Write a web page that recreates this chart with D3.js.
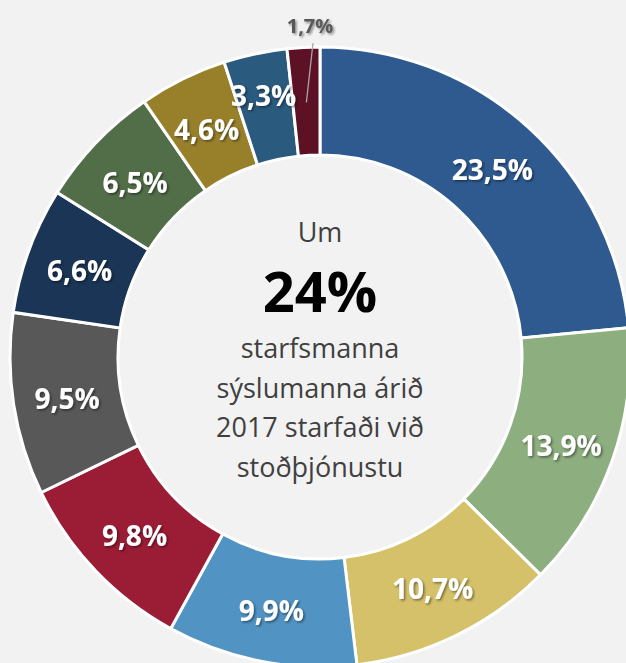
<!DOCTYPE html>
<html><head><meta charset="utf-8">
<script src="https://cdn.jsdelivr.net/npm/d3@7"></script>
<style>
html,body{margin:0;padding:0;background:#F2F2F2;overflow:hidden}
svg{display:block}
</style></head>
<body>
<script>
const categories = ["A","B","C","D","E","F","G","H","I","J","K"];
const values = [23.5, 13.9, 10.7, 9.9, 9.8, 9.5, 6.6, 6.5, 4.6, 3.3, 1.7];
const labels = ["23,5%","13,9%","10,7%","9,9%","9,8%","9,5%","6,6%","6,5%","4,6%","3,3%","1,7%"];
const colors = ["#2E5A8F","#8DAE7F","#D5C16A","#5193C3","#9B1C35","#585858","#1B3556","#526E48","#98802B","#2A5A7E","#5C1124"];
const centerLines = ["starfsmanna","sýslumanna árið","2017 starfaði við","stoðþjónustu"];

const W = 626, H = 663, cx = 320, cy = 357, R = 310, r0 = 202;
const svg = d3.select("body").append("svg").attr("width", W).attr("height", H);
svg.append("rect").attr("width", W).attr("height", H).attr("fill", "#F2F2F2");
const defs = svg.append("defs");
const f = defs.append("filter").attr("id","sh").attr("x","-20%").attr("y","-20%").attr("width","140%").attr("height","140%");
f.append("feDropShadow").attr("dx",1.5).attr("dy",1.5).attr("stdDeviation",1.2).attr("flood-color","#000").attr("flood-opacity",0.45);

const g = svg.append("g").attr("transform", `translate(${cx},${cy})`);
const pie = d3.pie().sort(null).value(d => d)(values);
const arc = d3.arc().innerRadius(r0).outerRadius(R);
g.selectAll("path.s").data(pie).join("path").attr("class","s")
  .attr("d", arc).attr("fill", (d,i) => colors[i])
  .attr("stroke", "#fff").attr("stroke-width", 3).attr("stroke-linejoin","miter");

const font = "'Segoe UI','Open Sans','Noto Sans',sans-serif";
pie.forEach((d,i) => {
  const a = (d.startAngle + d.endAngle)/2;
  if (i === values.length - 1) {
    const p1 = [Math.sin(a)*(r0+53), -Math.cos(a)*(r0+53)];
    const p2 = [-7, -R-4];
    g.append("line").attr("x1", p1[0]).attr("y1", p1[1]).attr("x2", p2[0]).attr("y2", p2[1])
      .attr("stroke", "#A6A6A6").attr("stroke-width", 1.3);
    g.append("text").attr("x", -10).attr("y", 33 - cy).attr("text-anchor","middle")
      .attr("font-family", font).attr("font-weight", 700).attr("font-size", 20)
      .attr("fill", "#595959").attr("filter","url(#sh)").text(labels[i]);
  } else {
    const rr = i === values.length - 2 ? 270 : (r0+R)/2;
    const c = [Math.sin(a)*rr, -Math.cos(a)*rr];
    g.append("text").attr("x", c[0]).attr("y", c[1]).attr("dy","0.45em").attr("text-anchor","middle")
      .attr("font-family", font).attr("font-weight", 700).attr("font-size", 28)
      .attr("fill", "#fff").attr("filter","url(#sh)").text(labels[i]);
  }
});

g.append("text").attr("x", 0).attr("y", 242 - cy).attr("text-anchor","middle")
  .attr("font-family", font).attr("font-size", 27).attr("fill", "#404040").text("Um");
g.append("text").attr("x", 0).attr("y", 312 - cy).attr("text-anchor","middle")
  .attr("font-family", font).attr("font-weight", 700).attr("font-size", 56).attr("fill", "#000").text("24%");
centerLines.forEach((t,i) => {
  g.append("text").attr("x", 0).attr("y", 358 - cy + i*39.5).attr("text-anchor","middle")
    .attr("font-family", font).attr("font-size", 27).attr("fill", "#404040").text(t);
});
</script>
</body></html>
